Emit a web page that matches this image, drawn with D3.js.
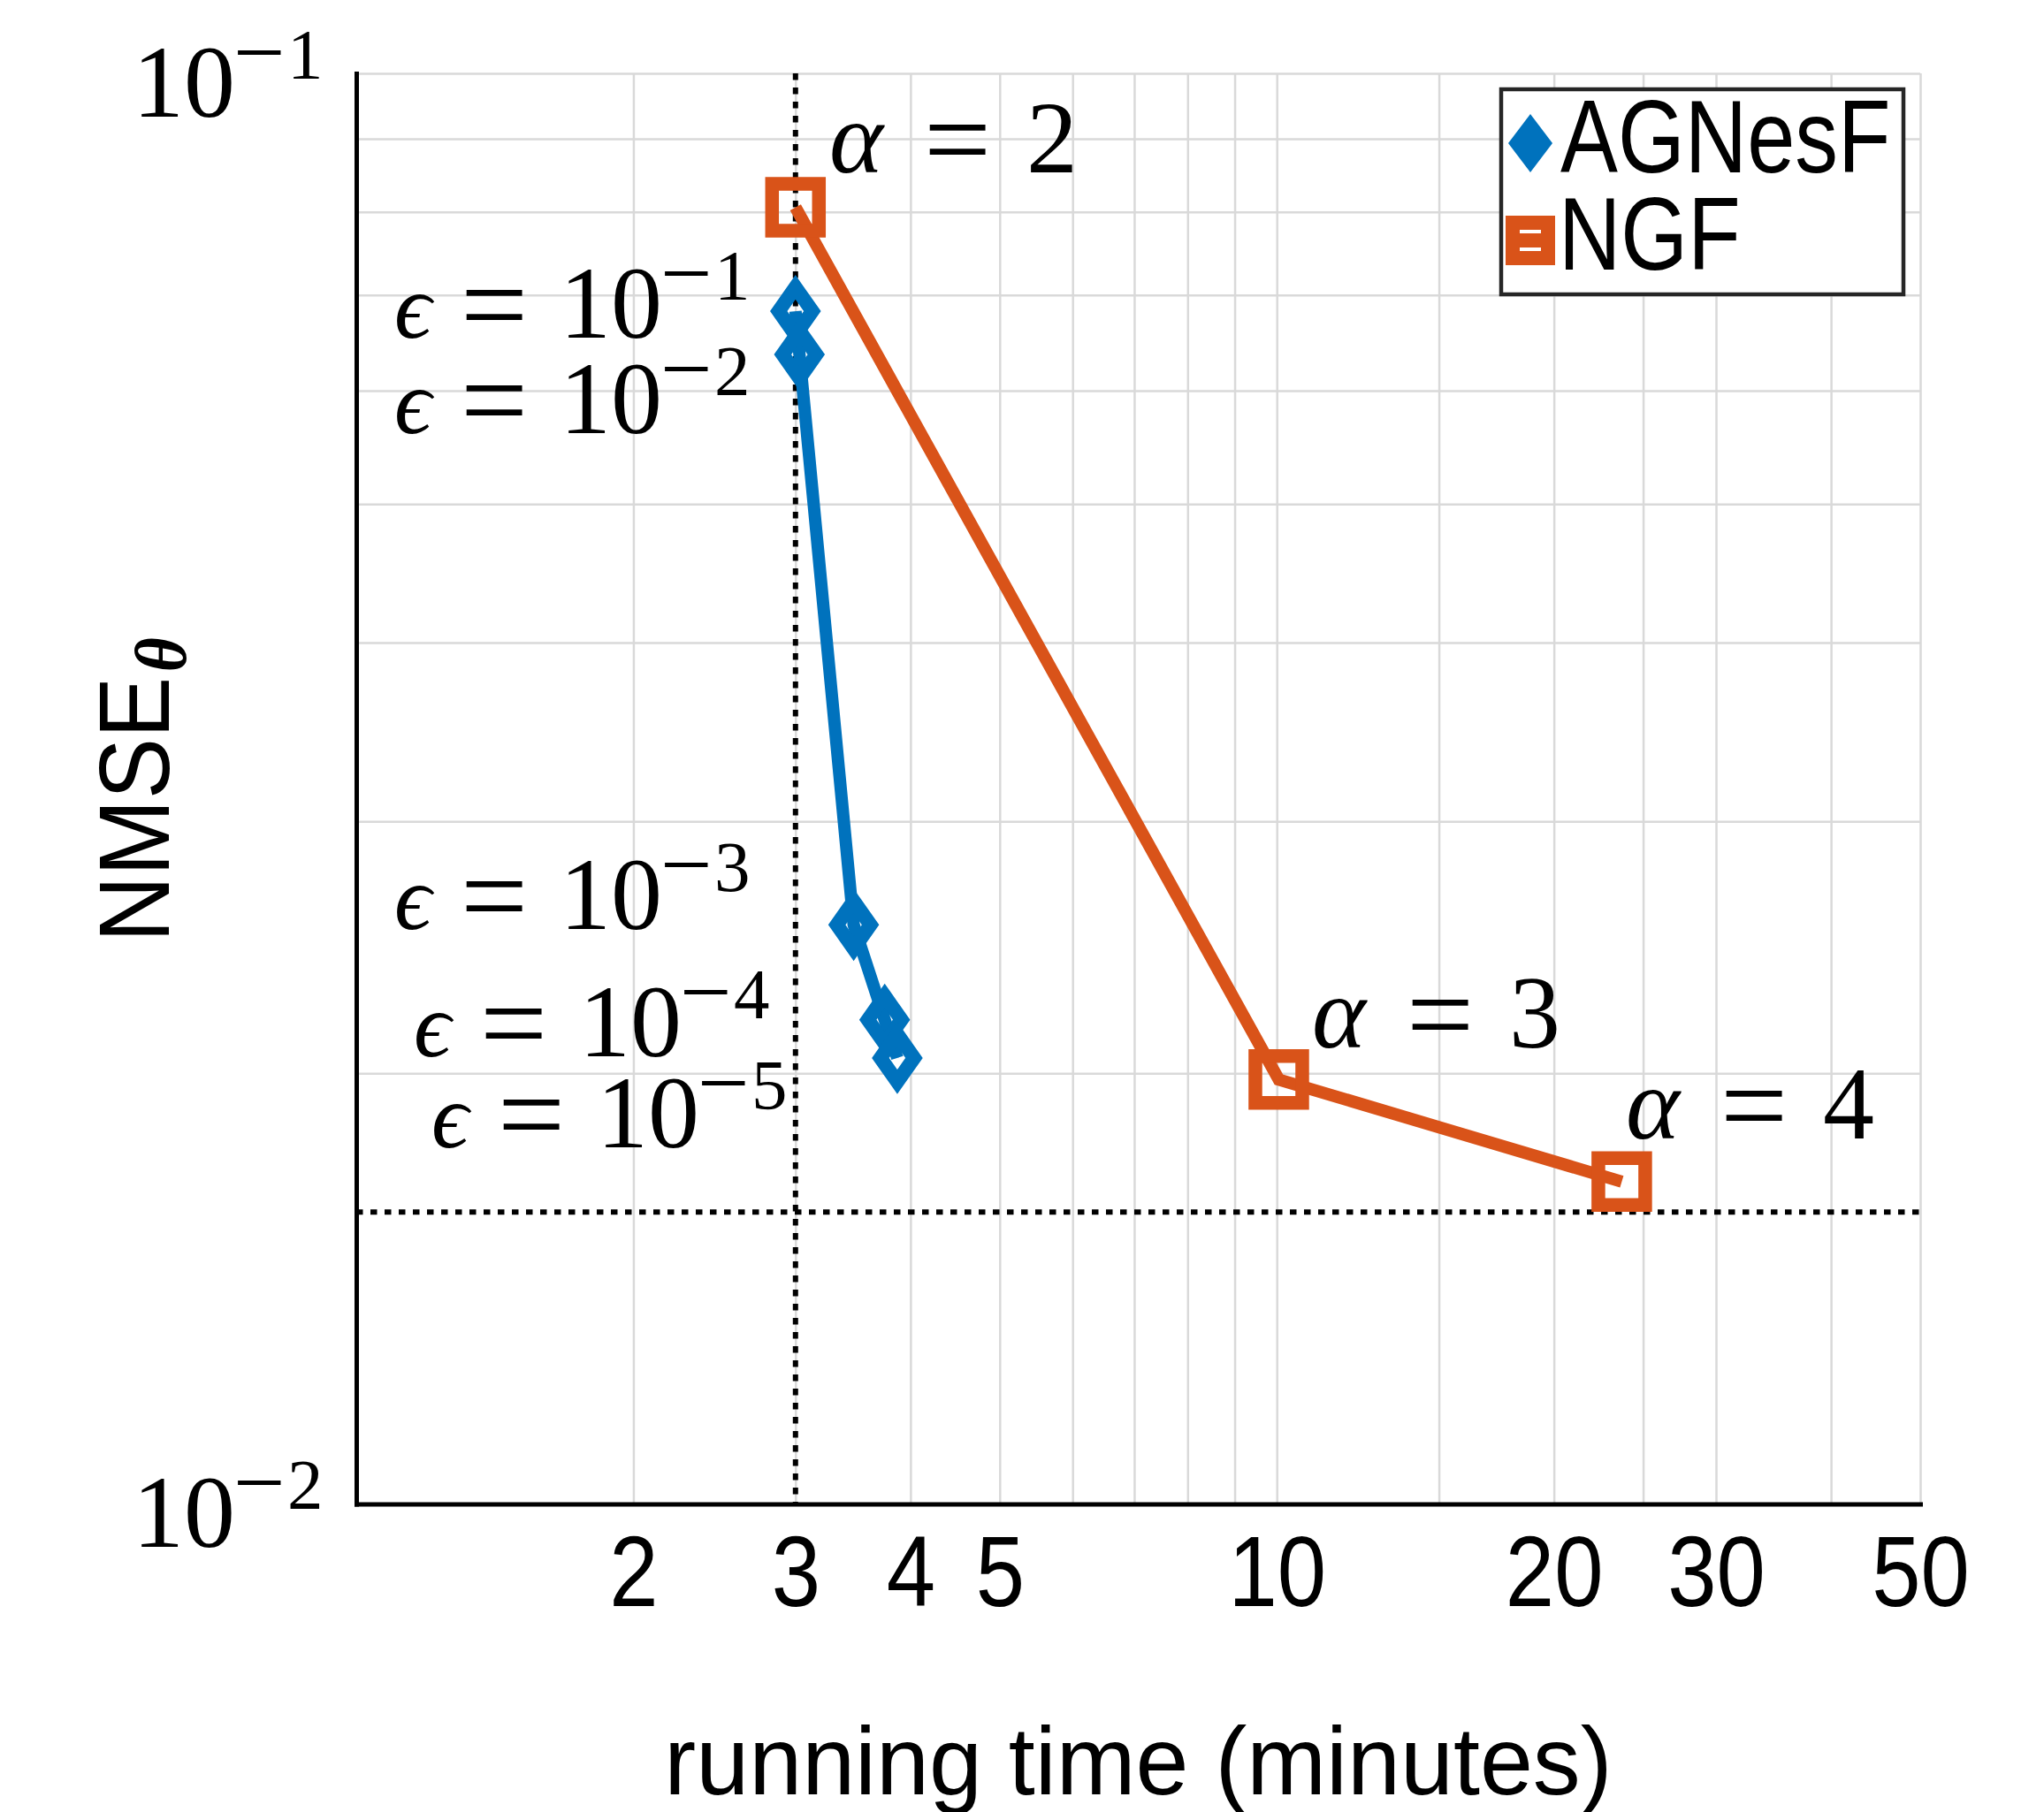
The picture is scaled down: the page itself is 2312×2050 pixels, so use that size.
<!DOCTYPE html>
<html>
<head>
<meta charset="UTF-8">
<style>
  body { margin: 0; background: #fff; }
  svg { display: block; }
  .sans { font-family: 'Liberation Sans', Arial, sans-serif; }
  .serif { font-family: 'Liberation Serif', 'DejaVu Serif', serif; }
</style>
</head>
<body>
<svg></svg>
<script src="https://d3js.org/d3.v7.min.js"></script>
<script>
// ---------- data
const seriesNames = ["AGNesF", "NGF"];

const agnesfTime = [3.0, 3.03, 3.47, 3.75, 3.87];
const agnesfNmse = [0.0682, 0.0636, 0.0254, 0.0218, 0.0205];
const agnesfEps = [1, 2, 3, 4, 5];          // epsilon = 10^-k

const ngfTime = [3.0, 10.05, 23.7];
const ngfNmse = [0.0806, 0.0198, 0.0168];
const ngfAlpha = [2, 3, 4];

const refTime = 3;        // vertical dotted line
const refNmse = 0.016;    // horizontal dotted line

const xTickValues = [2, 3, 4, 5, 10, 20, 30, 50];
const xGridValues = [2, 3, 4, 5, 6, 7, 8, 9, 10, 15, 20, 25, 30, 40, 50];
const yTickValues = [0.01, 0.1];
const yGridValues = [0.02, 0.03, 0.04, 0.05, 0.06, 0.07, 0.08, 0.09, 0.1];

// ---------- layout
const W = 2312, H = 2050;
const L = 403, R = 2172, T = 83, B = 1701.5;
const blue = "#0072BD", orange = "#D95319";

// label anchors (left edge of glyphs, baseline), in pixels
const epsLabelPos = [[446, 382], [446, 490], [446, 1051], [468, 1195], [488, 1298]];
const alphaLabelPos = [[941, 195], [1487, 1185], [1842, 1288]];

const svg = d3.select("svg").attr("width", W).attr("height", H);
svg.append("rect").attr("width", W).attr("height", H).attr("fill", "#fff");

const x = d3.scaleLog().domain([1, 50]).range([L, R]);
const y = d3.scaleLog().domain([0.01, 0.1]).range([B, T]);

// grid
svg.append("g")
  .attr("transform", `translate(0,${B})`)
  .call(d3.axisBottom(x).tickValues(xGridValues).tickSize(-(B - T)).tickFormat(""))
  .call(g => g.select(".domain").remove())
  .call(g => g.selectAll("line").attr("stroke", "#d9d9d9").attr("stroke-width", 2.5));
svg.append("g")
  .attr("transform", `translate(${L},0)`)
  .call(d3.axisLeft(y).tickValues(yGridValues).tickSize(-(R - L)).tickFormat(""))
  .call(g => g.select(".domain").remove())
  .call(g => g.selectAll("line").attr("stroke", "#d9d9d9").attr("stroke-width", 2.5));

// dotted reference lines
const dotted = svg.append("g")
  .attr("stroke", "#000").attr("stroke-width", 6).attr("stroke-dasharray", "7.5 8.5");
dotted.append("line")
  .attr("x1", x(refTime)).attr("x2", x(refTime)).attr("y1", T).attr("y2", B);
dotted.append("line")
  .attr("x1", L).attr("x2", R).attr("y1", y(refNmse)).attr("y2", y(refNmse));

// 10^-k written with a raised exponent; gx = left edge of the "10" glyphs
function addPow(text, gx, k, dy0) {
  text.append("tspan").attr("x", gx - 13).attr("dy", dy0).text("10");
  text.append("tspan").attr("x", gx + 101).attr("dy", -38).attr("font-size", 104).text("\u2212");
  text.append("tspan").attr("x", gx + 162).attr("dy", -5).attr("font-size", 81).text(k);
}

// x axis
const xAxis = svg.append("g")
  .attr("transform", `translate(0,${B})`)
  .call(d3.axisBottom(x).tickValues(xTickValues).tickFormat(d3.format("d"))
    .tickSize(0).tickSizeOuter(0).tickPadding(35));
xAxis.select(".domain").attr("stroke", "#000").attr("stroke-width", 5).attr("stroke-linecap", "square");
xAxis.selectAll(".tick text")
  .attr("class", "sans").attr("font-size", 113).attr("fill", "#000")
  .attr("transform", "scale(0.88,1)");

// y axis
const yAxis = svg.append("g")
  .attr("transform", `translate(${L},0)`)
  .call(d3.axisLeft(y).tickValues(yTickValues).tickFormat("").tickSize(0).tickSizeOuter(0));
yAxis.select(".domain").attr("stroke", "#000").attr("stroke-width", 5).attr("stroke-linecap", "square");
yAxis.selectAll(".tick text").remove();
yAxis.selectAll(".tick").each(function(d) {
  const t = d3.select(this).append("text")
    .attr("class", "serif").attr("font-size", 116).attr("fill", "#000")
    .attr("text-anchor", "start").attr("y", 48);
  addPow(t, 163 - L, -Math.round(Math.log10(d)), 0);
});

// series
const lineGen = d3.line().x(d => x(d[0])).y(d => y(d[1]));
const agnesf = d3.zip(agnesfTime, agnesfNmse);
const ngf = d3.zip(ngfTime, ngfNmse);

svg.append("path").datum(agnesf)
  .attr("d", lineGen).attr("fill", "none")
  .attr("stroke", blue).attr("stroke-width", 14).attr("stroke-linejoin", "miter");
svg.append("g").selectAll("path").data(agnesf).join("path")
  .attr("transform", d => `translate(${x(d[0])},${y(d[1])})`)
  .attr("d", "M0,-27L19,0L0,27L-19,0Z")
  .attr("fill", "none").attr("stroke", blue).attr("stroke-width", 16)
  .attr("stroke-linejoin", "miter");

svg.append("path").datum(ngf)
  .attr("d", lineGen).attr("fill", "none")
  .attr("stroke", orange).attr("stroke-width", 14).attr("stroke-linejoin", "miter");
svg.append("g").selectAll("path").data(ngf).join("path")
  .attr("transform", d => `translate(${x(d[0])},${y(d[1])})`)
  .attr("d", "M-26.5,-26.5H26.5V26.5H-26.5Z")
  .attr("fill", "none").attr("stroke", orange).attr("stroke-width", 15.5)
  .attr("stroke-linejoin", "miter");

// epsilon annotations
agnesfEps.forEach((k, i) => {
  const [lx, by] = epsLabelPos[i];
  const t = svg.append("text").attr("class", "serif").attr("font-size", 116)
    .attr("fill", "#000").attr("y", by);
  t.append("tspan").attr("x", lx).attr("font-style", "italic").attr("font-size", 104).text("\u03F5");
  t.append("tspan").attr("x", lx + 75).attr("dy", 8).attr("font-size", 135).text("=");
  addPow(t, lx + 200, k, -8);
});

// alpha annotations
ngfAlpha.forEach((a, i) => {
  const [lx, by] = alphaLabelPos[i];
  const t = svg.append("text").attr("class", "serif").attr("font-size", 116)
    .attr("fill", "#000").attr("y", by);
  t.append("tspan").attr("x", lx - 3).attr("font-style", "italic").text("\u03B1");
  t.append("tspan").attr("x", lx + 104).attr("dy", 8).attr("font-size", 135).text("=");
  t.append("tspan").attr("x", lx + 220).attr("dy", -8).text(a);
});

// axis labels
const yl = svg.append("text").attr("class", "sans").attr("font-size", 113).attr("fill", "#000")
  .attr("transform", "translate(191,1066) rotate(-90) scale(0.92,1)");
yl.append("tspan").text("NMSE");
yl.append("tspan").attr("font-family", "'Liberation Serif', serif")
  .attr("font-style", "italic").attr("font-weight", "bold")
  .attr("font-size", 82).attr("dx", 6).attr("dy", 19).text("\u03B8");

svg.append("text").attr("class", "sans").attr("font-size", 110).attr("fill", "#000")
  .attr("text-anchor", "middle")
  .attr("transform", `translate(${(L + R) / 2},2030) scale(0.98,1)`)
  .text("running time (minutes)");

// legend
const lg = svg.append("g");
lg.append("rect").attr("x", 1698).attr("y", 101).attr("width", 455).attr("height", 232)
  .attr("fill", "#fff").attr("stroke", "#262626").attr("stroke-width", 4.5);
lg.append("path").attr("transform", "translate(1731,162)")
  .attr("d", "M0,-33L25,0L0,33L-25,0Z").attr("fill", blue);
lg.append("rect").attr("x", 1711).attr("y", 252).attr("width", 40).attr("height", 40)
  .attr("fill", "#fff").attr("stroke", orange).attr("stroke-width", 16);
lg.append("line").attr("x1", 1711).attr("x2", 1751).attr("y1", 272).attr("y2", 272)
  .attr("stroke", orange).attr("stroke-width", 16);
lg.selectAll("text.leg").data(seriesNames).join("text")
  .attr("class", "sans leg").attr("font-size", 116).attr("fill", "#000")
  .attr("transform", (d, i) => `translate(${i === 0 ? 1765 : 1763},${i === 0 ? 195 : 305}) scale(0.84,1)`)
  .text(d => d);
</script>
</body>
</html>
